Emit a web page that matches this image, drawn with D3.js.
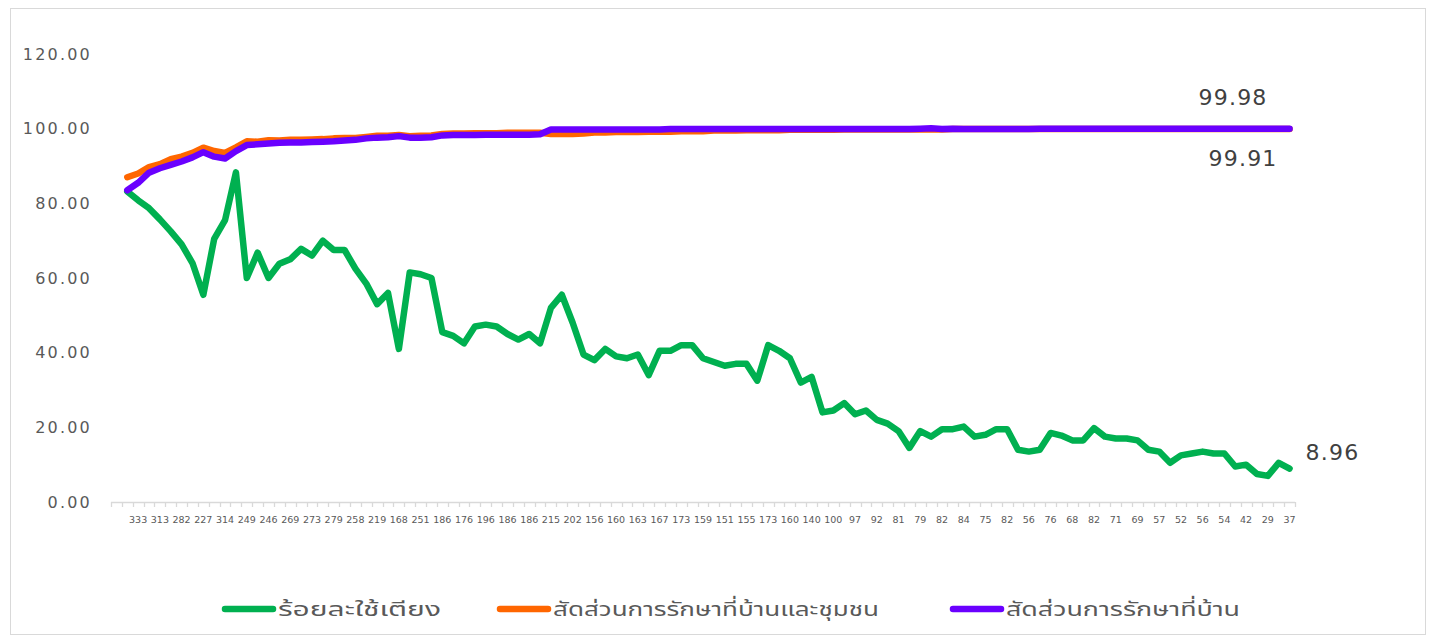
<!DOCTYPE html>
<html>
<head>
<meta charset="utf-8">
<script src="https://cdn.jsdelivr.net/npm/d3@7/dist/d3.min.js"></script>
<style>
  html, body { margin: 0; padding: 0; background: #ffffff; }
  svg { display: block; }
  text { font-family: "DejaVu Sans", "Noto Sans", "Noto Sans Thai", sans-serif; }
</style>
</head>
<body>
<svg id="chart" width="1431" height="636"></svg>
<script>
// ---------------- DATA ----------------
// visible category labels (every second category, starting at the 3rd category)
const tickLabels = [333,313,282,227,314,249,246,269,273,279,258,219,168,251,186,176,196,186,186,215,202,156,160,163,167,173,159,151,155,173,160,140,100,97,92,81,79,82,84,75,82,56,76,68,82,71,69,57,52,56,54,42,29,37];

// series values, one per category starting at the 2nd category
const bedUse = [83.2,80.8,78.7,75.7,72.5,69,64,55.5,70.5,75.5,
  88.3,60,66.8,60,63.8,65,67.8,66,70,67.5,
  67.5,62.5,58.5,53,56,41,61.5,61,60,45.5,
  44.5,42.5,47,47.5,47,45,43.5,45,42.5,52,
  55.5,48,39.5,38,41,39,38.5,39.5,34,40.5,
  40.5,42,42,38.5,37.5,36.5,37,37,32.5,42,
  40.5,38.5,32,33.5,24,24.5,26.5,23.5,24.5,22,
  21,19,14.5,19,17.5,19.5,19.5,20.2,17.5,18,
  19.5,19.5,14,13.5,14,18.5,17.8,16.5,16.5,19.8,
  17.5,17,17,16.5,14,13.5,10.5,12.5,13,13.5,
  13,13,9.5,10,7.5,7,10.5,8.96];

const homeCommunity = [87,88,89.7,90.5,91.8,92.5,93.5,94.9,94,93.5,
  95,96.6,96.5,96.9,96.8,97,97,97.1,97.2,97.4,
  97.5,97.5,97.8,98.1,98.1,98.3,98,98.1,98.2,98.6,
  98.7,98.7,98.8,98.8,98.8,98.9,98.9,98.9,98.9,98.6,
  98.6,98.6,98.7,99.0,99.0,99.1,99.1,99.1,99.2,99.2,
  99.2,99.3,99.3,99.3,99.5,99.5,99.5,99.6,99.6,99.6,
  99.6,99.7,99.7,99.7,99.7,99.7,99.8,99.8,99.8,99.8,
  99.8,99.8,99.8,99.8,99.8,99.8,99.9,99.9,99.9,99.9,
  99.9,99.9,99.9,99.9,99.9,99.9,99.9,99.9,99.9,99.9,
  99.9,99.9,99.9,99.9,99.9,99.9,99.9,99.9,99.9,99.9,
  99.9,99.9,99.9,99.9,99.9,99.9,99.9,99.91];

const homeOnly = [83.5,85.5,88.2,89.4,90.3,91.2,92.3,93.7,92.5,92,
  94,95.6,95.8,96,96.2,96.3,96.3,96.4,96.5,96.6,
  96.8,97,97.4,97.6,97.7,98,97.6,97.6,97.7,98.2,
  98.3,98.3,98.3,98.4,98.4,98.4,98.4,98.4,98.5,99.8,
  99.8,99.8,99.8,99.8,99.8,99.8,99.8,99.8,99.8,99.8,
  99.9,99.9,99.9,99.9,99.9,99.9,99.9,99.9,99.9,99.9,
  99.9,99.9,99.9,99.9,99.9,99.9,99.9,99.9,99.9,99.9,
  99.9,99.9,99.9,100,100.1,99.9,100,99.9,99.9,99.9,
  99.9,99.9,99.9,99.9,99.98,99.98,99.98,99.98,99.98,99.98,
  99.98,99.98,99.98,99.98,99.98,99.98,99.98,99.98,99.98,99.98,
  99.98,99.98,99.98,99.98,99.98,99.98,99.98,99.98];

const yTicks = [0,20,40,60,80,100,120];
const seriesNames = ["ร้อยละใช้เตียง","สัดส่วนการรักษาที่บ้านและชุมชน","สัดส่วนการรักษาที่บ้าน"];
const seriesColors = ["#00B050","#FF6600","#6A00FF"];

// categories: first one blank, then pairs (hidden, shown)
const categories = [""];
tickLabels.forEach(l => { categories.push(""); categories.push(String(l)); });
const catIndex = categories.map((c, i) => i);

// ---------------- CHART ----------------
const svg = d3.select("#chart");

svg.append("rect").attr("x", 10.5).attr("y", 8.5).attr("width", 1415).attr("height", 626)
  .attr("fill", "#fff").attr("stroke", "#d9d9d9").attr("stroke-width", 1);

const x = d3.scaleBand().domain(catIndex).range([111, 1295]).padding(0);
const y = d3.scaleLinear().domain([0, 120]).range([502, 54]);

// y axis labels
svg.append("g").selectAll("text").data(yTicks).join("text")
  .attr("x", 92).attr("y", d => y(d)).attr("dy", "0.35em")
  .attr("text-anchor", "end").attr("font-size", 16).attr("letter-spacing", 2.2)
  .attr("fill", "#595959").text(d => d3.format(".2f")(d));

// x axis line and ticks (between categories)
const xg = svg.append("g");
xg.append("line").attr("x1", x.range()[0]).attr("x2", x.range()[1])
  .attr("y1", y(0) + 0.5).attr("y2", y(0) + 0.5).attr("stroke", "#d9d9d9").attr("stroke-width", 1.3);
const boundaries = d3.range(categories.length + 1).map(i => x.range()[0] + i * x.step());
xg.selectAll("line.tick").data(boundaries).join("line").attr("class", "tick")
  .attr("x1", d => Math.round(d) + 0.5).attr("x2", d => Math.round(d) + 0.5)
  .attr("y1", y(0)).attr("y2", y(0) + 5).attr("stroke", "#d9d9d9").attr("stroke-width", 1.3);
xg.selectAll("text").data(catIndex.filter(i => categories[i] !== "")).join("text")
  .attr("x", i => x(i) + x.bandwidth() / 2).attr("y", y(0) + 18)
  .attr("dy", "0.35em").attr("text-anchor", "middle").attr("font-size", 9.5)
  .attr("fill", "#595959").text(i => categories[i]);

// lines
const series = [bedUse, homeCommunity, homeOnly];
const line = d3.line()
  .x(d => x(d.c) + x.bandwidth() / 2)
  .y(d => y(d.v));
series.forEach((vals, s) => {
  const pts = vals.map((v, i) => ({ c: i + 1, v }));
  svg.append("path").datum(pts)
    .attr("fill", "none").attr("stroke", seriesColors[s]).attr("stroke-width", 6.5)
    .attr("stroke-linejoin", "round").attr("stroke-linecap", "round")
    .attr("d", line);
});

// data labels
const lastC = bedUse.length;
const lx = x(lastC) + x.bandwidth() / 2;
const lblStyle = sel => sel.attr("font-size", 22).attr("fill", "#404040").attr("letter-spacing", 1.2);
svg.append("text").attr("x", lx + 16).attr("y", y(bedUse[lastC - 1]) - 9)
  .call(lblStyle).text(d3.format(".2f")(bedUse[lastC - 1]));
svg.append("text").attr("x", lx - 22).attr("y", y(homeOnly[lastC - 1]) - 24)
  .attr("text-anchor", "end").call(lblStyle)
  .text(d3.format(".2f")(homeOnly[lastC - 1]));
svg.append("text").attr("x", lx - 12).attr("y", y(homeCommunity[lastC - 1]) + 37)
  .attr("text-anchor", "end").call(lblStyle)
  .text(d3.format(".2f")(homeCommunity[lastC - 1]));

// legend
const legendX = [222, 497, 950];
const legendTextLen = [163, 326, 234];
const lg = svg.append("g");
seriesNames.forEach((name, i) => {
  lg.append("line").attr("x1", legendX[i] + 3).attr("x2", legendX[i] + 51)
    .attr("y1", 609).attr("y2", 609).attr("stroke", seriesColors[i])
    .attr("stroke-width", 6.5).attr("stroke-linecap", "round");
  lg.append("text").attr("x", legendX[i] + 56).attr("y", 609).attr("dy", "0.35em")
    .attr("font-size", 20).attr("fill", "#595959")
    .attr("textLength", legendTextLen[i]).attr("lengthAdjust", "spacingAndGlyphs")
    .text(name);
});
</script>
</body>
</html>
